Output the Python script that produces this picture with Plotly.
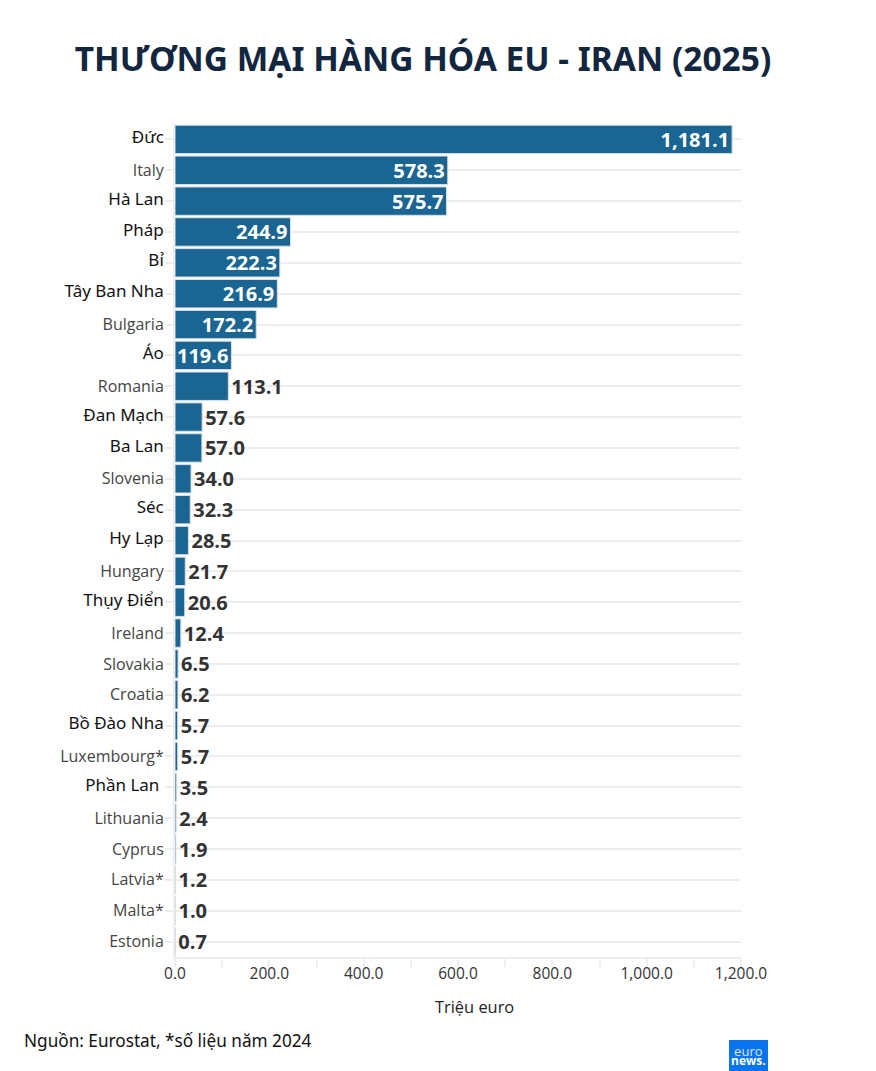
import plotly.graph_objects as go

countries = ["Đức", "Italy", "Hà Lan", "Pháp", "Bỉ", "Tây Ban Nha", "Bulgaria", "Áo", "Romania",
             "Đan Mạch", "Ba Lan", "Slovenia", "Séc", "Hy Lạp", "Hungary", "Thụy Điển", "Ireland",
             "Slovakia", "Croatia", "Bồ Đào Nha", "Luxembourg*", "Phần Lan", "Lithuania", "Cyprus",
             "Latvia*", "Malta*", "Estonia"]
values = [1181.1, 578.3, 575.7, 244.9, 222.3, 216.9, 172.2, 119.6, 113.1,
          57.6, 57.0, 34.0, 32.3, 28.5, 21.7, 20.6, 12.4,
          6.5, 6.2, 5.7, 5.7, 3.5, 2.4, 1.9, 1.2, 1.0, 0.7]
# these were labelled in another font in the original
translated = ["Đức", "Hà Lan", "Pháp", "Bỉ", "Tây Ban Nha", "Áo", "Đan Mạch", "Ba Lan", "Séc",
              "Hy Lạp", "Thụy Điển", "Bồ Đào Nha", "Phần Lan"]
x_ticks = [0, 200, 400, 600, 800, 1000, 1200]

# the page body has an 8px margin, so the figure sits 8px in from the window corner
PAGE = 8
W, H = 876 - PAGE, 1071 - PAGE
L, R, T, B = 175 - PAGE, 741 - PAGE, 124 - PAGE, 957 - PAGE


def fx(px):
    return (px - PAGE - L) / (R - L)


def fy(py):
    return (B - (py - PAGE)) / (B - T)


def tick_label(name):
    if name in translated:
        pad = "&nbsp;" if name == "Phần Lan" else ""
        return ("<span style='font-family:Noto Sans;font-size:17px;fill:#111111;"
                f"baseline-shift:2.5px'>{name}{pad}</span>")
    return name


fig = go.Figure(go.Bar(
    x=values,
    y=countries,
    orientation="h",
    marker=dict(color="#1a6592", line=dict(color="#d5e0e8", width=1)),
    text=[f"{v:,.1f}" for v in values],
    textposition=["inside" if v > 115 else "outside" for v in values],
    insidetextanchor="end",
    textangle=0,
    constraintext="none",
    cliponaxis=False,
    textfont=dict(family="Open Sans", size=20, weight="bold",
                  color=["#ffffff" if v > 115 else "#333333" for v in values]),
    hoverinfo="x+y",
))

fig.update_layout(
    width=W,
    height=H,
    margin=dict(l=L, r=W - R, t=T, b=H - B, autoexpand=False),
    paper_bgcolor="white",
    plot_bgcolor="white",
    bargap=0.08,
    showlegend=False,
    font=dict(family="Open Sans", size=15, color="#333333"),
    title=dict(
        text="<b>THƯƠNG MẠI HÀNG HÓA EU - IRAN (2025)</b>",
        x=(423 - PAGE) / W, xanchor="center",
        y=1 - (59 - PAGE) / H, yanchor="middle",
        font=dict(family="Noto Sans", size=33.5, color="#12263f"),
    ),
)

fig.update_xaxes(
    range=[0, 1200],
    tickvals=x_ticks,
    tickformat=",.1f",
    ticks="outside",
    ticklen=8,
    tickwidth=2,
    tickcolor="#eeeeee",
    tickfont=dict(size=15.5, color="#333333"),
    ticklabelstandoff=-7,
    showgrid=False,
    zeroline=False,
    showline=True,
    linecolor="#eeeeee",
    linewidth=2,
    minor=dict(dtick=100, ticks="outside", ticklen=8, tickwidth=2, tickcolor="#eeeeee", showgrid=False),
)
fig.update_yaxes(
    autorange="reversed",
    tickmode="array",
    tickvals=countries,
    ticktext=[tick_label(c) for c in countries],
    ticks="outside",
    ticklen=8,
    tickwidth=2,
    tickcolor="#eeeeee",
    tickfont=dict(size=16, color="#444444"),
    ticklabelstandoff=-2,
    showgrid=True,
    gridcolor="#eeeeee",
    gridwidth=2,
    zeroline=False,
    showline=True,
    linecolor="#eeeeee",
    linewidth=2,
)

# axis title sits right of the plot centre in the original, so not the built-in one
fig.add_annotation(
    text="Triệu euro",
    xref="paper", yref="paper",
    x=fx(474), y=fy(1006),
    xanchor="center", yanchor="middle", showarrow=False,
    font=dict(family="Open Sans", size=16.4, color="#222222"),
)

# source note
fig.add_annotation(
    text="Nguồn: Eurostat, *số liệu năm 2024",
    xref="paper", yref="paper",
    x=fx(22), y=fy(1040),
    xanchor="left", yanchor="middle", showarrow=False,
    font=dict(family="Noto Sans", size=17.2, color="#111111"),
)

# euronews logo: one two-line text, the lines pulled together with baseline-shift
fig.add_shape(
    type="rect", xref="paper", yref="paper", layer="below",
    x0=fx(729), x1=fx(768), y0=fy(1071), y1=fy(1040),
    fillcolor="#0a74ee", line_width=0,
)
fig.add_annotation(
    text="<span style='baseline-shift:-8px;fill:#dbe9fb;font-size:13px'>euro</span><br>"
         "<b><span style='baseline-shift:-1px'>news.</span></b>",
    xref="paper", yref="paper",
    x=fx(748), y=fy(1055),
    xanchor="center", yanchor="middle", showarrow=False, borderpad=0,
    font=dict(family="Open Sans", size=12, color="white"),
)

fig.write_html("out.html")
